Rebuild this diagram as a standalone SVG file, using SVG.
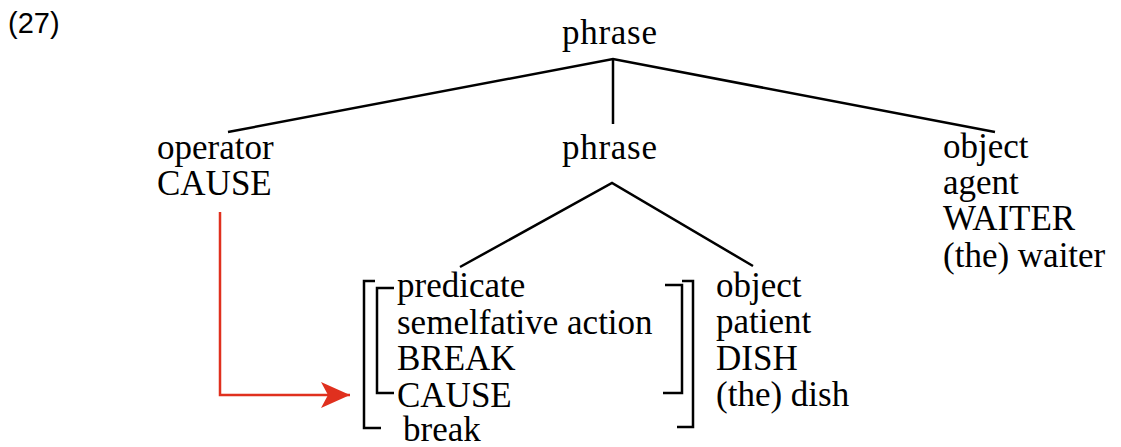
<svg xmlns="http://www.w3.org/2000/svg" width="1121" height="447" viewBox="0 0 1121 447">
<style>
.t{font-family:'Liberation Serif','Times New Roman',serif;font-size:35px;fill:#000}
.lbl{font-family:'Liberation Sans',Arial,sans-serif;font-size:29px;fill:#000}
.ln{stroke:#000;stroke-width:2.5;fill:none}
.br{stroke:#000;stroke-width:2.5;fill:none}
</style>
<defs>
<marker id="ah" markerUnits="userSpaceOnUse" markerWidth="32" markerHeight="30" refX="30" refY="14" orient="auto">
<path d="M30,14 L1,1 L8,14 L1,27 Z" fill="#e0301e"/>
</marker>
</defs>
<rect width="1121" height="447" fill="#fff"/>
<text class="lbl" x="8" y="33">(27)</text>
<g id="connectors">
<path class="ln" d="M228,132 L613,59 L995,132"/>
<path class="ln" d="M613,59 V124"/>
<path class="ln" d="M460,267 L612,183 L753,266"/>
<path d="M220,212 V395 H350" stroke="#e0301e" stroke-width="2.5" fill="none" marker-end="url(#ah)"/>
</g>
<g class="t">
<g id="n-phrase-top"><text x="562" y="44" textLength="95" lengthAdjust="spacing">phrase</text></g>
<g id="n-operator"><text x="157" y="159">operator</text><text x="157" y="195">CAUSE</text></g>
<g id="n-phrase-mid"><text x="562" y="159" textLength="95" lengthAdjust="spacing">phrase</text></g>
<g id="n-object-agent"><text x="943" y="158">object</text><text x="943" y="194">agent</text><text x="943" y="230">WAITER</text><text x="943" y="267">(the) waiter</text></g>
<g id="n-predicate">
<path class="br" d="M375,281 H364 V428 H381"/>
<path class="br" d="M394,288 H377 V393 H394"/>
<path class="br" d="M665,285 H682 V393 H663"/>
<path class="br" d="M682,281 H693 V427 H677"/>
<text x="397" y="297">predicate</text>
<text x="397" y="334">semelfative action</text>
<text x="397" y="370">BREAK</text>
<text x="397" y="407">CAUSE</text>
<text x="403" y="441">break</text>
</g>
<g id="n-object-patient"><text x="716" y="297">object</text><text x="716" y="333">patient</text><text x="716" y="370">DISH</text><text x="716" y="406">(the) dish</text></g>
</g>
</svg>
